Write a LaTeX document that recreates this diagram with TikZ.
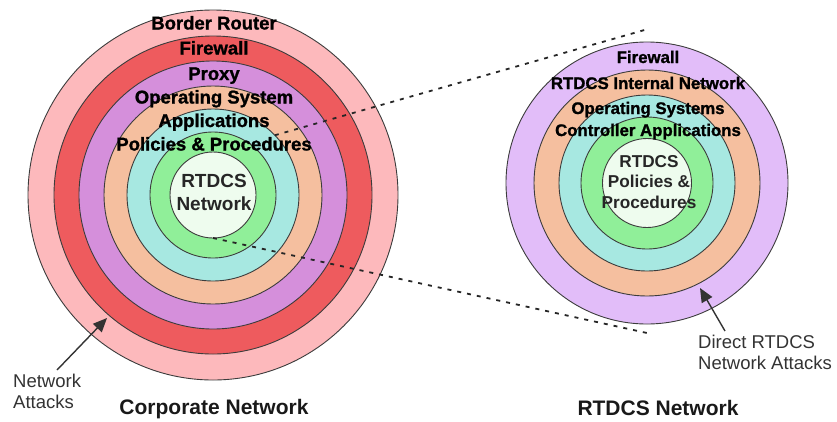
\documentclass[tikz,border=0pt]{standalone}
\usepackage{fontspec}
\setmainfont{Liberation Sans}
\newfontfamily\ringfont{Liberation Sans}[BoldFeatures={FakeBold=1.2}]
\usetikzlibrary{arrows.meta}

\definecolor{pinkring}{RGB}{253,185,188}
\definecolor{redring}{RGB}{238,91,94}
\definecolor{purplering}{RGB}{213,143,219}
\definecolor{lavring}{RGB}{226,189,249}
\definecolor{peachring}{RGB}{245,191,159}
\definecolor{cyanring}{RGB}{167,232,225}
\definecolor{greenring}{RGB}{144,239,153}
\definecolor{corering}{RGB}{238,252,238}
\definecolor{edge}{RGB}{60,60,60}

\tikzset{
  ring/.style={circle, draw=edge, line width=0.9pt, inner sep=0pt, outer sep=0pt},
  layer/.style={font=\ringfont\bfseries\fontsize{18.5}{20}\selectfont, anchor=base, inner sep=0pt, text=black},
  rlayer/.style={font=\ringfont\bfseries\fontsize{16.8}{18}\selectfont, anchor=base, inner sep=0pt, text=black},
  core/.style={font=\bfseries\fontsize{19}{23}\selectfont, align=center, inner sep=0pt, text=black!85},
  rcore/.style={font=\bfseries\fontsize{17.2}{20.5}\selectfont, align=center, inner sep=0pt, text=black!85},
  note/.style={font=\fontsize{18.5}{21}\selectfont, align=left, anchor=north west, inner sep=0pt, text=black!80},
  caption/.style={font=\bfseries\fontsize{21}{24}\selectfont, anchor=base, inner sep=0pt, text=black!90},
  zoomline/.style={draw=black!85, line width=1.8pt, dash pattern=on 4pt off 6pt},
  attack/.style={draw=black!80, line width=1.4pt, -{Triangle[length=14pt,width=12pt]}}
}

\begin{document}
\begin{tikzpicture}[x=1pt,y=-1pt]
\useasboundingbox (0,0) rectangle (837,421);

% corporate network rings
\node[ring, fill=pinkring,   minimum size=370pt] (L1) at (213,195) {};
\node[ring, fill=redring,    minimum size=318pt] (L2) at (213,195) {};
\node[ring, fill=purplering, minimum size=268pt] (L3) at (213,195) {};
\node[ring, fill=peachring,  minimum size=218pt] (L4) at (213,195) {};
\node[ring, fill=cyanring,   minimum size=172pt] (L5) at (213,195) {};
\node[ring, fill=greenring,  minimum size=126pt] (L6) at (213,195) {};
\node[ring, fill=corering,   minimum size=86pt]  (L7) at (213,195) {};

% RTDCS network rings
\node[ring, fill=lavring,   minimum size=282pt] (R1) at (647,183) {};
\node[ring, fill=peachring, minimum size=226pt] (R2) at (647,183) {};
\node[ring, fill=cyanring,  minimum size=176pt] (R3) at (647,183) {};
\node[ring, fill=greenring, minimum size=132pt] (R4) at (647,183) {};
\node[ring, fill=corering,  minimum size=89pt]  (R5) at (647,183) {};

% zoom lines from the core to the RTDCS detail
\coordinate (zt) at (648,29);
\coordinate (zb) at (647,333);
\draw[zoomline] (L5.44) -- (zt);
\draw[zoomline] (L7.south) -- (zb);

% corporate layer labels
\node[layer] (tBR) at (214,29.5) {Border Router};
\node[layer] (tFW) at (214,54.5) {Firewall};
\node[layer] (tPX) at (214,80) {Proxy};
\node[layer] (tOS) at (214,103.5) {Operating System};
\node[layer] (tAP) at (214,127) {Applications};
\node[layer] (tPP) at (214,150.5) {Policies \& Procedures};
\node[core] (tCore) at (214,192) {RTDCS\\Network};

% RTDCS layer labels
\node[rlayer] (rFW) at (648,63) {Firewall};
\node[rlayer] (rIN) at (648,89) {RTDCS Internal Network};
\node[rlayer] (rOS) at (648,114) {Operating Systems};
\node[rlayer] (rCA) at (648,136) {Controller Applications};
\node[rcore] (rCore) at (649,182) {RTDCS\\Policies \&\\Procedures};

% attacks
\node[note] (nNA) at (13,374) {Network\\Attacks};
\node[note] (nDA) at (698,335) {Direct RTDCS\\Network Attacks};
\coordinate (aL) at (107,318);
\coordinate (aR) at (700,288);
\draw[attack] (57,370) -- (aL);
\draw[attack] (725,331) -- (aR);

% captions
\node[caption] (cCorp) at (214,414) {Corporate Network};
\node[caption] (cRT) at (658,415) {RTDCS Network};
\end{tikzpicture}
\end{document}
